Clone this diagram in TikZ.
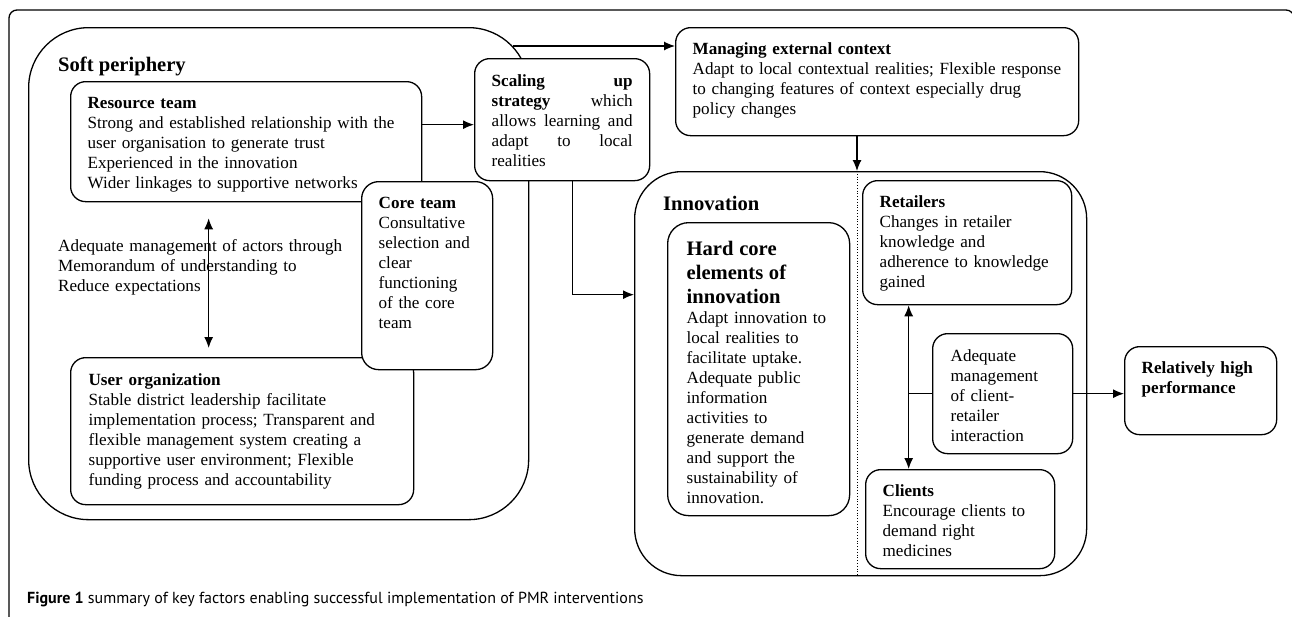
\documentclass[tikz,border=0pt]{standalone}
\usepackage{fontspec}
\setmainfont{Liberation Serif}
\newfontfamily\capfont{PT Sans}
\usepackage{xcolor}
\usetikzlibrary{shapes,arrows,arrows.meta,positioning}

\newcommand{\bodyfont}{\fontsize{17.1}{20}\selectfont\hyphenpenalty=10000\exhyphenpenalty=10000}
\newcommand{\headfont}{\fontsize{20.6}{24}\selectfont\bfseries}

\tikzset{
	pane/.style={draw, line width=1.3pt, rounded corners=15pt, fill=white, anchor=north west, align=left,
		inner xsep=17pt, inner ysep=0pt, text height=27pt, font=\bodyfont},
	region/.style={draw, line width=1.3pt, fill=white, anchor=north west, inner sep=0pt},
	note/.style={anchor=north west, align=left, inner sep=0pt, text height=13pt, text width=300pt, font=\bodyfont},
	arr/.style={line width=1.2pt, -{Latex[length=11pt,width=9pt]}},
	dblarr/.style={line width=1.2pt, {Latex[length=11pt,width=9pt]}-{Latex[length=11pt,width=9pt]}},
}

\begin{document}
\begin{tikzpicture}[x=1pt, y=-1pt]
					\useasboundingbox (0,0) rectangle (1292,616);
					% Draw the frame of the figure
					\draw[line width=1.3pt, rounded corners=8pt] (9,640) -- (9,10) -- (1294,10) -- (1294,640);

					% Draw the soft periphery and the innovation regions
					\node[region, rounded corners=60pt, minimum width=500pt, minimum height=492pt] (soft) at (28,27) {};
					\node[font=\headfont, anchor=base west, inner sep=0pt] (softlbl) at (58,71) {Soft periphery};
					\node[region, rounded corners=47pt, minimum width=452pt, minimum height=404pt] (innov) at (634,171) {};
					\node[font=\headfont, anchor=base west, inner sep=0pt] (innovlbl) at (663,210) {Innovation};
					\coordinate (split) at (857,171);
					\draw[dotted, line width=0.8pt] (split) -- (split |- innov.south);

					% Resource team, user organization, core team on top
					\node[pane, text width=317pt, text depth=93pt] (restm) at (70,81)
						{\textbf{Resource team}\\Strong and established relationship with the\\user organisation to generate trust\\Experienced in the innovation\\Wider linkages to supportive networks};
					\node[pane, inner xsep=18pt, text width=307pt, text height=28pt, text depth=119pt] (usrorg) at (70,357)
						{\textbf{User organization}\\Stable district leadership facilitate\\implementation process; Transparent and\\flexible management system creating a\\supportive user environment; Flexible\\funding process and accountability};
					\node[pane, rounded corners=17pt, text width=97pt, text depth=161pt] (coretm) at (361,181)
						{\textbf{Core team}\\Consultative\\selection and\\clear\\functioning\\of the core\\team};
					\node[note] (mou) at (58,238) {Adequate management of actors through\\Memorandum of understanding to\\Reduce expectations};

					% Scaling up and external context
					\node[pane, text width=141pt, text height=28pt, text depth=94pt] (scale) at (474,58)
						{\textbf{Scaling}\hfill\textbf{up}\\\textbf{strategy}\hfill which\\allows\hfill learning\hfill and\\adapt\hfill to\hfill local\\realities};
					\node[pane, text width=369pt, text depth=81pt] (extctx) at (675,27)
						{\textbf{Managing external context}\\Adapt to local contextual realities; Flexible response\\to changing features of context especially drug\\policy changes};

					% Inside the innovation
					\node[pane, rounded corners=21pt, inner xsep=19pt, text width=144pt, text height=33pt, text depth=260pt] (hardc) at (667,222)
						{{\headfont Hard core\\elements of\\innovation\par}Adapt innovation to\\local realities to\\facilitate uptake.\\Adequate public\\information\\activities to\\generate demand\\and support the\\sustainability of\\innovation.};
					\node[pane, text width=175pt, text depth=97pt] (retail) at (862,180)
						{\textbf{Retailers}\\Changes in retailer\\knowledge and\\adherence to knowledge\\gained};
					\node[pane, inner xsep=18pt, text width=104pt, text height=28pt, text depth=92pt] (admgmt) at (932,333)
						{Adequate\\management\\of client-\\retailer\\interaction};
					\node[pane, text width=155pt, text depth=72pt] (clients) at (865,469)
						{\textbf{Clients}\\Encourage clients to\\demand right\\medicines};
					\node[pane, text width=118pt, text depth=61pt] (perf) at (1124,346)
						{\textbf{Relatively high}\\\textbf{performance}};

					% Connectors
					\draw[arr] ([yshift=17pt]restm.east) -- ([yshift=17pt]restm.east -| scale.west);
					\draw[arr] ([xshift=-16pt,yshift=-19pt]soft.north east) coordinate (softout) -- (softout -| extctx.west);
					\draw[arr] ([xshift=10.5pt]scale.south) |- ([yshift=79pt]innov.west);
					\draw[arr] (split |- extctx.south) -- (split);
					\draw[dblarr, shorten <=16pt, shorten >=9pt] ([xshift=-37.5pt]restm.south) -- ([xshift=-37.5pt]restm.south |- usrorg.north);
					\draw[dblarr] ([xshift=-58.5pt]retail.south) coordinate (rcmid) -- (rcmid |- clients.north);
					\draw[line width=1.2pt] (admgmt.west) -- (admgmt.west -| rcmid);
					\draw[arr] (admgmt.east) -- (admgmt.east -| perf.west);

					% Caption
					\node[anchor=base west, inner sep=0pt, font=\capfont\fontsize{16}{20}\selectfont] (caption) at (27,603)
						{\textbf{Figure 1} summary of key factors enabling successful implementation of PMR interventions};
				\end{tikzpicture}
\end{document}
